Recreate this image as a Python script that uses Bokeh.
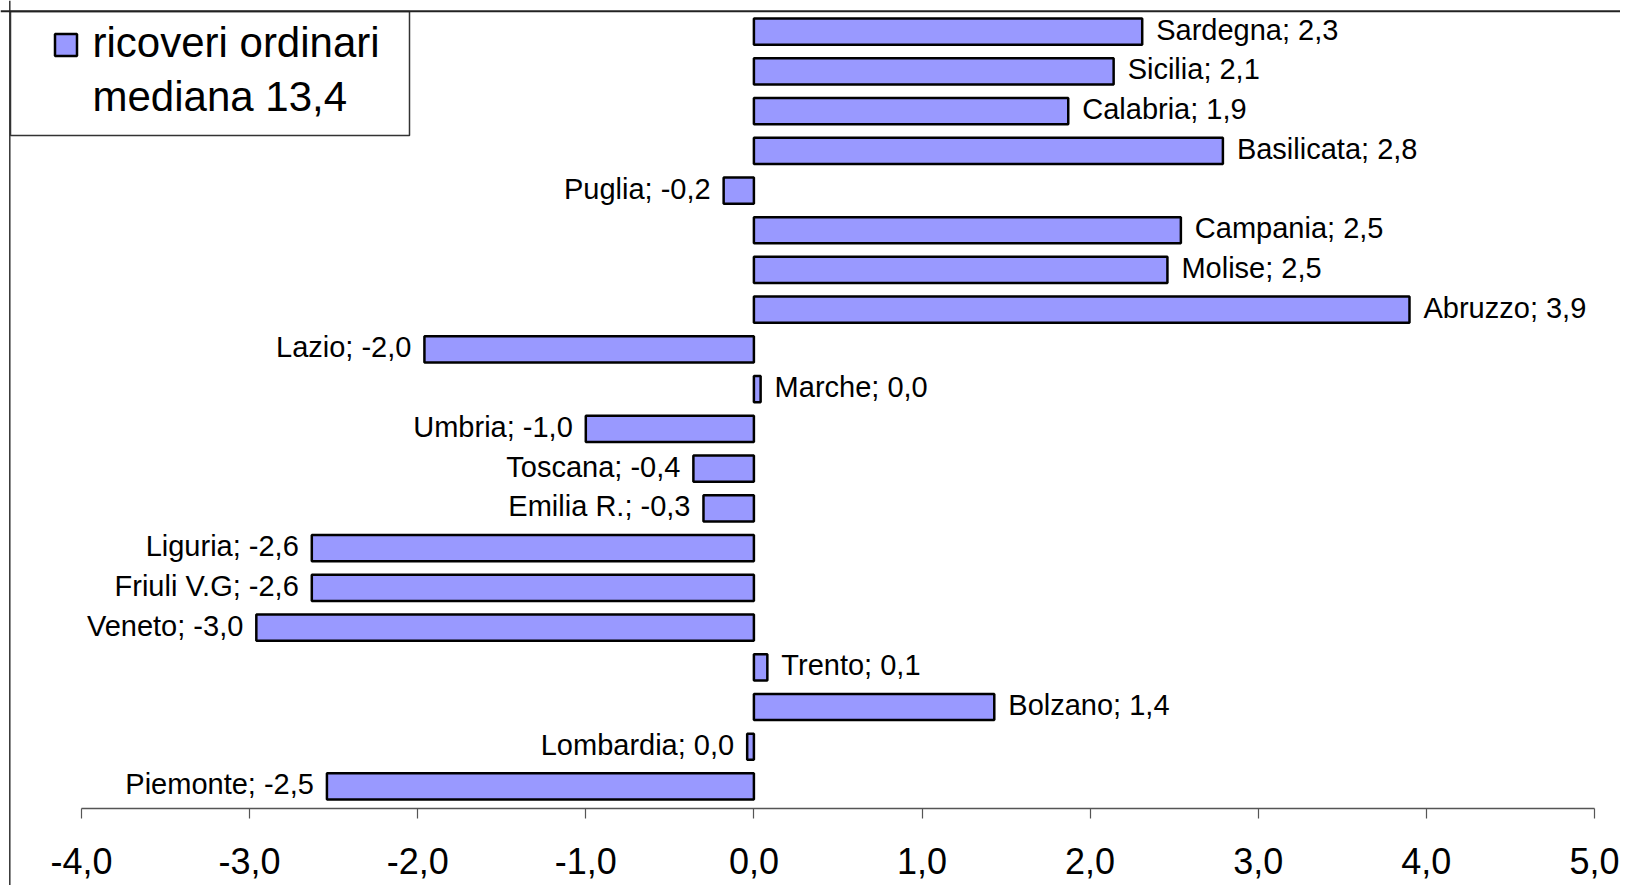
from bokeh.plotting import figure
from bokeh.models import LinearAxis, FixedTicker, Span, Range1d, ColumnDataSource
from bokeh.core.properties import value
from bokeh.embed import file_html
from bokeh.resources import INLINE

# ---------------- data ----------------
regions = ["Piemonte", "Lombardia", "Bolzano", "Trento", "Veneto", "Friuli V.G",
           "Liguria", "Emilia R.", "Toscana", "Umbria", "Marche", "Lazio",
           "Abruzzo", "Molise", "Campania", "Puglia", "Basilicata", "Calabria",
           "Sicilia", "Sardegna"]
values = [-2.54, -0.04, 1.43, 0.08, -2.96, -2.63,
          -2.63, -0.30, -0.36, -1.00, 0.04, -1.96,
          3.90, 2.46, 2.54, -0.18, 2.79, 1.87,
          2.14, 2.31]
tick_values = [-4, -3, -2, -1, 0, 1, 2, 3, 4, 5]
tick_labels = ["-4,0", "-3,0", "-2,0", "-1,0", "0,0", "1,0", "2,0", "3,0", "4,0", "5,0"]
legend_lines = ["ricoveri ordinari", "mediana 13,4"]

FONT = "Liberation Sans"
BAR_FILL = "#9999FF"

# ---------------- layout (pixels -> data) ----------------
W, H = 1620, 885
SX = 168.1          # px per unit on x
SY = 39.73          # px per category step
x_start = -4 - 81 / SX
x_end = x_start + W / SX
y_end = (len(regions) - 1) + 31.1 / SY
y_start = y_end - H / SY


def xd(px):
    return x_start + px / SX


def yd(py):
    return y_end - py / SY


def fmt(v):
    r = round(v, 1)
    if r == 0:
        r = 0.0
    s = f"{abs(r):.1f}".replace(".", ",")
    return ("-" if r < 0 else "") + s


ys = list(range(len(regions)))
labels = [f"{n}; {fmt(v)}" for n, v in zip(regions, values)]

pos = [i for i, v in enumerate(values) if v >= 0]
neg = [i for i, v in enumerate(values) if v < 0]
src_bar = ColumnDataSource(dict(y=ys, v=values))
src_pos = ColumnDataSource(dict(x=[values[i] for i in pos], y=[ys[i] for i in pos],
                                t=[labels[i] for i in pos]))
src_neg = ColumnDataSource(dict(x=[values[i] for i in neg], y=[ys[i] for i in neg],
                                t=[labels[i] for i in neg]))

p = figure(width=W, height=H,
           x_range=Range1d(x_start, x_end), y_range=Range1d(y_start, y_end),
           x_axis_location=None, y_axis_location=None,
           min_border=0, toolbar_location=None, output_backend="svg",
           outline_line_color=None, background_fill_color="white",
           border_fill_color="white")
p.xgrid.grid_line_color = None
p.ygrid.grid_line_color = None

# bars
p.hbar(y="y", left=0, right="v", height=0.66, source=src_bar,
       fill_color=BAR_FILL, line_color="black", line_width=2.5)

# data labels
p.text(x="x", y="y", text="t", source=src_pos, x_offset=14, y_offset=-2,
       text_align="left", text_baseline="middle",
       text_font=value(FONT), text_font_size="29px", text_color="black")
p.text(x="x", y="y", text="t", source=src_neg, x_offset=-13, y_offset=-2,
       text_align="right", text_baseline="middle",
       text_font=value(FONT), text_font_size="29px", text_color="black")

# x axis drawn at the bottom of the category band
axis_y = yd(807.5)
xaxis = LinearAxis(ticker=FixedTicker(ticks=tick_values, minor_ticks=[]),
                   fixed_location=axis_y, bounds=(tick_values[0], tick_values[-1]))
xaxis.major_label_overrides = {t: l for t, l in zip(tick_values, tick_labels)}
xaxis.major_tick_out = 10
xaxis.major_tick_in = 0
xaxis.minor_tick_out = 0
xaxis.minor_tick_in = 0
xaxis.axis_line_color = "#555555"
xaxis.axis_line_width = 1.5
xaxis.major_tick_line_color = "#555555"
xaxis.major_tick_line_width = 1.2
xaxis.major_label_text_font = FONT
xaxis.major_label_text_font_size = "36px"
xaxis.major_label_text_color = "black"
xaxis.major_label_standoff = 30
p.add_layout(xaxis, "below")

# chart-area border (left and top)
p.add_layout(Span(location=xd(9.3), dimension="height", line_color="#333333", line_width=1.5))
p.add_layout(Span(location=yd(10.8), dimension="width", line_color="#222222", line_width=2))

# legend box
p.quad(left=[xd(10)], right=[xd(409)], top=[yd(11)], bottom=[yd(135)],
       fill_color="white", line_color="#333333", line_width=1.5)
p.rect(x=[xd(65.5)], y=[yd(44.5)], width=22, height=22,
       width_units="screen", height_units="screen",
       fill_color=BAR_FILL, line_color="black", line_width=2.5)
p.text(x=[xd(92), xd(92)], y=[yd(42), yd(96)], text=legend_lines,
       text_align="left", text_baseline="middle",
       text_font=value(FONT), text_font_size="42px", text_color="black")

open("out.html", "w").write(file_html(p, INLINE))
